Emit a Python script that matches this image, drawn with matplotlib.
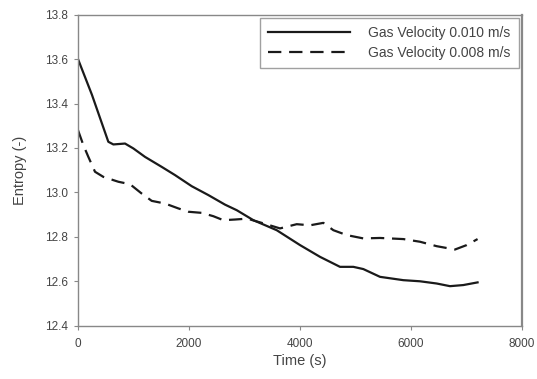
import matplotlib
matplotlib.use("Agg")
import matplotlib.pyplot as plt

plt.rcParams['font.family'] = ['Liberation Sans', 'DejaVu Sans']

t_010 = [0, 250, 546, 637, 847, 997, 1207, 1508, 1748, 2049, 2349, 2649, 2860, 3160, 3580,
         4000, 4361, 4721, 4961, 5141, 5442, 5862, 6162, 6463, 6703, 6943, 7200]
e_010 = [13.60, 13.44, 13.228, 13.216, 13.22, 13.198, 13.16, 13.115, 13.078, 13.028, 12.988, 12.945, 12.92, 12.875, 12.83,
         12.763, 12.71, 12.665, 12.665, 12.655, 12.62, 12.605, 12.60, 12.59, 12.578, 12.583, 12.595]

t_008 = [0, 96, 186, 306, 456, 727, 937, 1147, 1328, 1568, 1808, 1988, 2229, 2438, 2619, 2829,
         3050, 3350, 3640, 3941, 4181, 4421, 4601, 4841, 5141, 5442, 5862, 6162, 6463, 6793, 7004, 7200]
e_008 = [13.28, 13.213, 13.16, 13.093, 13.07, 13.048, 13.037, 12.995, 12.962, 12.95, 12.928, 12.913, 12.908, 12.893, 12.875, 12.878,
         12.882, 12.86, 12.838, 12.857, 12.852, 12.863, 12.83, 12.808, 12.793, 12.795, 12.79, 12.778, 12.758, 12.743, 12.763, 12.79]

labels = ['Gas Velocity 0.010 m/s', 'Gas Velocity 0.008 m/s']
xticks = [0, 2000, 4000, 6000, 8000]
yticks = [12.4, 12.6, 12.8, 13.0, 13.2, 13.4, 13.6, 13.8]

fig = plt.figure(figsize=(5.37, 3.79), dpi=100)
ax = fig.add_axes([0.1453, 0.1406, 0.8267, 0.8206])

ax.plot(t_010, e_010, color='#1a1a1a', lw=1.6, label=labels[0])
ax.plot(t_008, e_008, color='#1a1a1a', lw=1.6, dashes=(6, 3.5), label=labels[1])

ax.set_xlim(0, 8000)
ax.set_ylim(12.4, 13.8)
ax.set_xticks(xticks)
ax.set_yticks(yticks)
ax.set_yticklabels([f"{v:.1f}" for v in yticks])
ax.tick_params(direction='out', length=3, width=0.8, color='#888888',
               labelsize=8.5, labelcolor='#444444')
ax.tick_params(axis='x', pad=6)
ax.tick_params(axis='y', pad=4)
for s in ax.spines.values():
    s.set_color('#888888')
    s.set_linewidth(1.0)
ax.spines['right'].set_linewidth(1.6)

ax.set_xlabel('Time (s)', fontsize=10.5, color='#444444', labelpad=3)
ax.set_ylabel('Entropy (-)', fontsize=10.5, color='#444444', labelpad=13)

leg = ax.legend(loc='upper right', bbox_to_anchor=(0.9925, 0.99), fontsize=10,
                frameon=True, fancybox=False, handlelength=5.9, borderpad=0.6,
                labelspacing=0.42, handletextpad=1.3, borderaxespad=0.0)
leg.get_frame().set_edgecolor('#888888')
leg.get_frame().set_linewidth(1.0)
for txt in leg.get_texts():
    txt.set_color('#444444')

fig.savefig('out.png', dpi=100)
